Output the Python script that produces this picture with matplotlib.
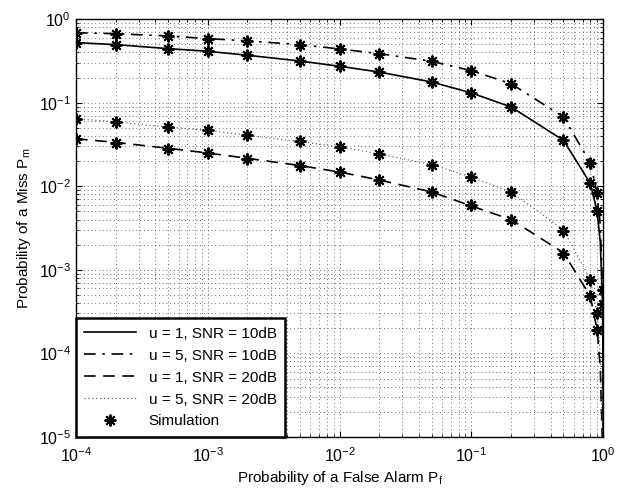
import matplotlib
matplotlib.use("Agg")
import matplotlib.pyplot as plt
from matplotlib.lines import Line2D

plt.rcParams["font.family"] = ["Liberation Sans", "DejaVu Sans"]
plt.rcParams["mathtext.default"] = "regular"
plt.rcParams["font.size"] = 11

# theory curves, P_f grid
pf_line = [1e-4, 2e-4, 5e-4, 1e-3, 2e-3, 5e-3, 1e-2, 2e-2, 5e-2, 0.1, 0.2,
           0.5, 0.8, 0.9, 0.95, 0.99, 0.999, 0.9999]
pm_u1_10 = [0.525, 0.496, 0.444, 0.413, 0.37, 0.316, 0.273, 0.233, 0.177,
            0.131, 0.089, 0.0355, 0.0108, 0.005, 0.0022, 0.0004, 3e-5, 1e-6]
pm_u5_10 = [0.69, 0.67, 0.63, 0.585, 0.55, 0.496, 0.44, 0.387, 0.313,
            0.242, 0.169, 0.0675, 0.019, 0.0082, 0.0035, 0.00058, 3e-5, 1e-6]
pm_u1_20 = [0.037, 0.0335, 0.0285, 0.025, 0.0216, 0.0177, 0.0148, 0.0119,
            0.00855, 0.0058, 0.004, 0.0016, 0.00048, 0.00019, 7e-5, 7e-6,
            1e-6, 1e-7]
pm_u5_20 = [0.0645, 0.0588, 0.0512, 0.0467, 0.0407, 0.0342, 0.0298, 0.0243,
            0.0182, 0.0129, 0.00855, 0.003, 0.00076, 0.0003, 1e-4, 1e-5,
            1e-6, 1e-7]

# simulation points
pf_sim_10 = [1e-4, 2e-4, 5e-4, 1e-3, 2e-3, 5e-3, 1e-2, 2e-2, 5e-2, 0.1, 0.2,
             0.5, 0.8, 0.9, 0.99]
sim_u1_10 = [0.525, 0.496, 0.444, 0.413, 0.37, 0.316, 0.273, 0.233, 0.177,
             0.131, 0.089, 0.0355, 0.0108, 0.005, 0.00039]
sim_u5_10 = [0.69, 0.67, 0.63, 0.585, 0.55, 0.496, 0.44, 0.387, 0.313,
             0.242, 0.169, 0.0675, 0.019, 0.0082, 0.00058]
pf_sim_20 = [1e-4, 2e-4, 5e-4, 1e-3, 2e-3, 5e-3, 1e-2, 2e-2, 5e-2, 0.1, 0.2,
             0.5, 0.8, 0.9]
sim_u1_20 = [0.037, 0.033, 0.0282, 0.025, 0.0214, 0.0177, 0.0149, 0.012,
             0.00855, 0.0059, 0.004, 0.00156, 0.00048, 0.00019]
sim_u5_20 = [0.0645, 0.0588, 0.0512, 0.0467, 0.0407, 0.0346, 0.0298, 0.0243,
             0.0182, 0.0128, 0.00855, 0.0029, 0.00076, 0.0003]

labels = ["u = 1, SNR = 10dB", "u = 5, SNR = 10dB",
          "u = 1, SNR = 20dB", "u = 5, SNR = 20dB", "Simulation"]

fig = plt.figure(figsize=(6.18, 4.92), dpi=100)
ax = fig.add_axes([0.123, 0.112, 0.853, 0.849])

lw = 1.2
dashdot = (0, (7, 4, 1.5, 4))
dashed = (0, (7, 4.5))
dotted = (0, (1, 2.5))
ax.plot(pf_line, pm_u1_10, "k-", lw=lw)
ax.plot(pf_line, pm_u5_10, "k", ls=dashdot, lw=lw)
ax.plot(pf_line, pm_u1_20, "k", ls=dashed, lw=lw)
ax.plot(pf_line, pm_u5_20, color="0.3", ls=dotted, lw=0.8)

star = dict(ls="none", marker=(8, 2, 0), ms=8.5, mew=1.4, color="k")
ax.plot(pf_sim_10, sim_u1_10, **star)
ax.plot(pf_sim_10, sim_u5_10, **star)
ax.plot(pf_sim_20, sim_u1_20, **star)
ax.plot(pf_sim_20, sim_u5_20, **star)

ax.set_xscale("log")
ax.set_yscale("log")
ax.set_xlim(1e-4, 1)
ax.set_ylim(1e-5, 1)
ax.grid(True, which="both", color="0.25", ls=(0, (1, 3.5)), lw=0.6)
ax.tick_params(which="both", direction="in", top=True, right=True,
               labelsize=11.5)
ax.tick_params(axis="x", pad=7)
ax.tick_params(which="major", length=4)
ax.tick_params(which="minor", length=2)
for s in ax.spines.values():
    s.set_linewidth(1.0)

ax.set_xlabel("Probability of a False Alarm P$_f$", fontsize=11, labelpad=3)
ax.set_ylabel("Probability of a Miss P$_m$", fontsize=11, labelpad=4)

handles = [
    Line2D([], [], color="k", ls="-", lw=lw),
    Line2D([], [], color="k", ls=dashdot, lw=lw),
    Line2D([], [], color="k", ls=dashed, lw=lw),
    Line2D([], [], color="0.3", ls=dotted, lw=0.8),
    Line2D([], [], **star),
]
leg = ax.legend(handles, labels, loc="lower left", borderaxespad=0,
                fancybox=False, framealpha=1, edgecolor="k",
                handlelength=3.4, handletextpad=0.8, labelspacing=0.52,
                fontsize=11, borderpad=0.55)
leg.get_frame().set_linewidth(1.8)

fig.savefig("out.png", dpi=100)
